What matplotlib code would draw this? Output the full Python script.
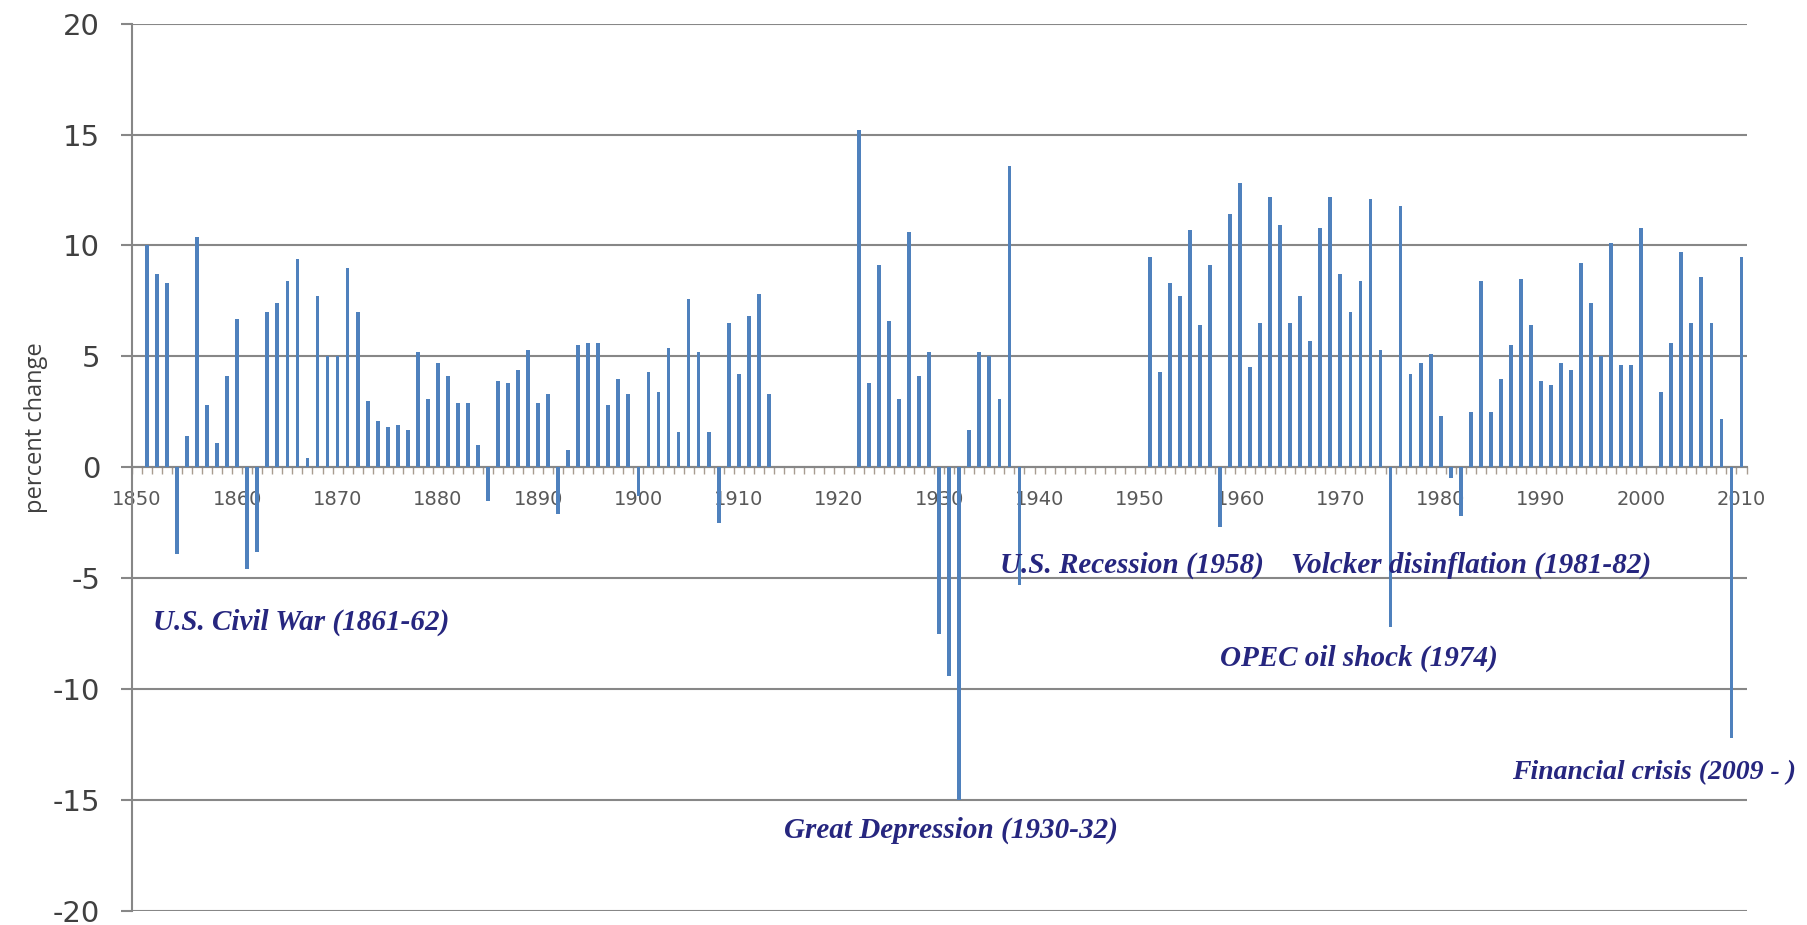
import numpy as np
import matplotlib.pyplot as plt
from matplotlib.ticker import MultipleLocator

plt.rcParams["axes.unicode_minus"] = False

# annual percent change, one list per decade (0 = no bar drawn)
g1850s = [0.0, 10.0, 8.7, 8.3, -3.9, 1.4, 10.4, 2.8, 1.1, 4.1]
g1860s = [6.7, -4.6, -3.8, 7.0, 7.4, 8.4, 9.4, 0.4, 7.7, 5.0]
g1870s = [5.0, 9.0, 7.0, 3.0, 2.1, 1.8, 1.9, 1.7, 5.2, 3.1]
g1880s = [4.7, 4.1, 2.9, 2.9, 1.0, -1.5, 3.9, 3.8, 4.4, 5.3]
g1890s = [2.9, 3.3, -2.1, 0.8, 5.5, 5.6, 5.6, 2.8, 4.0, 3.3]
g1900s = [-1.3, 4.3, 3.4, 5.4, 1.6, 7.6, 5.2, 1.6, -2.5, 6.5]
g1910s = [4.2, 6.8, 7.8, 3.3, 0.0, 0.0, 0.0, 0.0, 0.0, 0.0]
g1920s = [0.0, 0.0, 15.2, 3.8, 9.1, 6.6, 3.1, 10.6, 4.1, 5.2]
g1930s = [-7.5, -9.4, -15.0, 1.7, 5.2, 5.0, 3.1, 13.6, -5.3, 0.0]
g1940s = [0.0, 0.0, 0.0, 0.0, 0.0, 0.0, 0.0, 0.0, 0.0, 0.0]
g1950s = [0.0, 9.5, 4.3, 8.3, 7.7, 10.7, 6.4, 9.1, -2.7, 11.4]
g1960s = [12.8, 4.5, 6.5, 12.2, 10.9, 6.5, 7.7, 5.7, 10.8, 12.2]
g1970s = [8.7, 7.0, 8.4, 12.1, 5.3, -7.2, 11.8, 4.2, 4.7, 5.1]
g1980s = [2.3, -0.5, -2.2, 2.5, 8.4, 2.5, 4.0, 5.5, 8.5, 6.4]
g1990s = [3.9, 3.7, 4.7, 4.4, 9.2, 7.4, 5.0, 10.1, 4.6, 4.6]
g2000s = [10.8, 0.0, 3.4, 5.6, 9.7, 6.5, 8.6, 6.5, 2.2, -12.2]
g2010s = [9.5]

growth = (g1850s + g1860s + g1870s + g1880s + g1890s + g1900s + g1910s + g1920s
          + g1930s + g1940s + g1950s + g1960s + g1970s + g1980s + g1990s
          + g2000s + g2010s)
years = np.arange(1850, 1850 + len(growth))

events = ["U.S. Civil War (1861-62)", "Great Depression (1930-32)",
          "U.S. Recession (1958)", "Volcker disinflation (1981-82)",
          "OPEC oil shock (1974)", "Financial crisis (2009 - )"]
# left edge of each label, in (year, percent) units
event_x = [1851.6, 1914.5, 1936.1, 1965.1, 1958.0, 1987.1]
event_y = [-7.0, -16.35, -4.4, -4.4, -8.6, -13.75]
event_size = [21, 21, 21, 21, 21, 20]

GRID = "#878787"
BAR = "#4f81bd"
TXT = "#26267f"

fig = plt.figure(figsize=(18.08, 9.25), dpi=100)
ax = fig.add_axes([0.073, 0.0151, 0.893, 0.9594])

ax.bar(years, growth, width=0.38, color=BAR, linewidth=0, zorder=3)

ax.set_xlim(1849.5, 2010.5)
ax.set_ylim(-20, 20)
ax.yaxis.set_major_locator(MultipleLocator(5))
ax.grid(axis="y", color=GRID, linewidth=1.5, zorder=1)

# x axis sits on zero
for s in ["top", "right"]:
    ax.spines[s].set_visible(False)
ax.spines["bottom"].set_position(("data", 0))
ax.spines["bottom"].set_color(GRID)
ax.spines["bottom"].set_linewidth(1.5)
ax.spines["bottom"].set_zorder(2)
ax.spines["left"].set_color(GRID)
ax.spines["left"].set_linewidth(1.5)

ax.set_xticks(np.arange(1850, 2011, 10))
ax.set_xticks(np.arange(1849.5, 2011, 1), minor=True)
ax.tick_params(axis="x", which="major", length=0, pad=16, labelsize=14,
               labelcolor="#595959")
ax.tick_params(axis="x", which="minor", length=5, width=1, color="#a89c90",
               direction="out")
ax.tick_params(axis="y", length=8, width=1.5, color=GRID, labelsize=21,
               labelcolor="#404040", pad=15)
for lab in ax.get_xticklabels() + ax.get_yticklabels():
    lab.set_fontfamily("DejaVu Sans")

ax.set_ylabel("percent change", fontsize=17, color="#404040",
              fontfamily="Open Sans")
ax.yaxis.set_label_coords(-0.052, 0.545)

for txt, x, y, fs in zip(events, event_x, event_y, event_size):
    ax.text(x, y, txt, fontsize=fs, color=TXT, fontfamily="Liberation Serif",
            fontweight="bold", fontstyle="italic", ha="left", va="center",
            zorder=4)

fig.savefig("out.png", dpi=100)
